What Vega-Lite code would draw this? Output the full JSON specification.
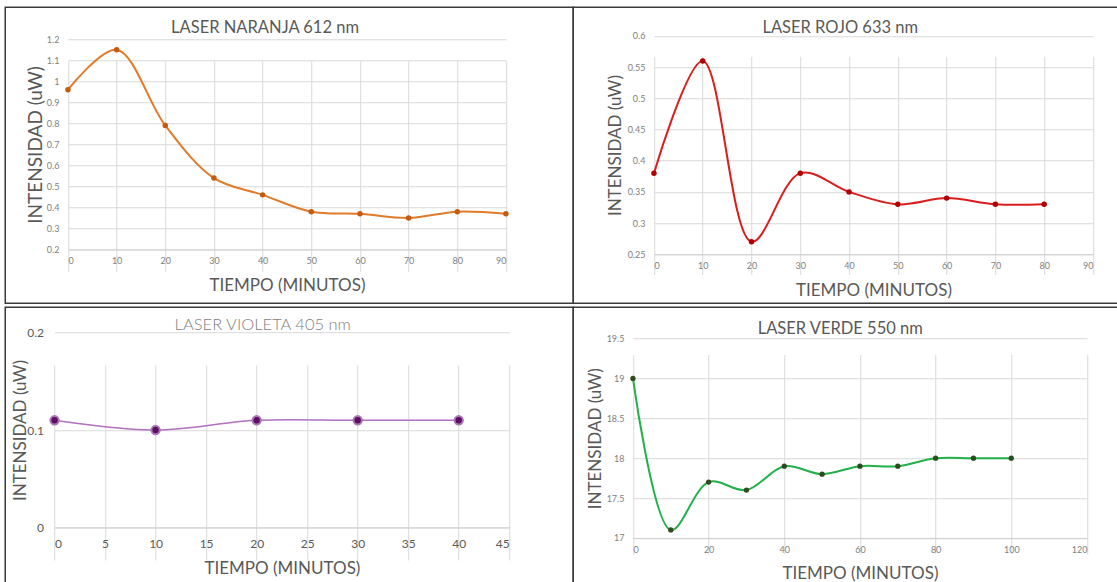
{
  "$schema": "https://vega.github.io/schema/vega-lite/v6.json",
  "background": "white",
  "padding": {"left": 4.25, "top": 6.25, "right": 0, "bottom": 0},
  "autosize": {"type": "pad"},
  "datasets": {
    "naranja": [
      {"tiempo": 0, "intensidad": 0.96}, {"tiempo": 10, "intensidad": 1.15}, {"tiempo": 20, "intensidad": 0.79},
      {"tiempo": 30, "intensidad": 0.54}, {"tiempo": 40, "intensidad": 0.46}, {"tiempo": 50, "intensidad": 0.38},
      {"tiempo": 60, "intensidad": 0.37}, {"tiempo": 70, "intensidad": 0.35}, {"tiempo": 80, "intensidad": 0.38},
      {"tiempo": 90, "intensidad": 0.37}
    ],
    "rojo": [
      {"tiempo": 0, "intensidad": 0.38}, {"tiempo": 10, "intensidad": 0.56}, {"tiempo": 20, "intensidad": 0.27},
      {"tiempo": 30, "intensidad": 0.38}, {"tiempo": 40, "intensidad": 0.35}, {"tiempo": 50, "intensidad": 0.33},
      {"tiempo": 60, "intensidad": 0.34}, {"tiempo": 70, "intensidad": 0.33}, {"tiempo": 80, "intensidad": 0.33}
    ],
    "violeta": [
      {"tiempo": 0, "intensidad": 0.11}, {"tiempo": 10, "intensidad": 0.10}, {"tiempo": 20, "intensidad": 0.11},
      {"tiempo": 30, "intensidad": 0.11}, {"tiempo": 40, "intensidad": 0.11}
    ],
    "verde": [
      {"tiempo": 0, "intensidad": 19.0}, {"tiempo": 10, "intensidad": 17.1}, {"tiempo": 20, "intensidad": 17.7},
      {"tiempo": 30, "intensidad": 17.6}, {"tiempo": 40, "intensidad": 17.9}, {"tiempo": 50, "intensidad": 17.8},
      {"tiempo": 60, "intensidad": 17.9}, {"tiempo": 70, "intensidad": 17.9}, {"tiempo": 80, "intensidad": 18.0},
      {"tiempo": 90, "intensidad": 18.0}, {"tiempo": 100, "intensidad": 18.0}
    ]
  },
  "columns": 2,
  "spacing": {"row": 4, "column": 0},
  "bounds": "flush",
  "align": "all",
  "concat": [
    {
      "width": 568, "height": 296,
      "title": {"text": "LASER NARANJA 612 nm", "anchor": "middle", "frame": "group", "dx": -24.2, "offset": -42.6, "baseline": "alphabetic", "fontSize": 16.5},
      "data": {"name": "naranja"},
      "encoding": {
        "x": {"field": "tiempo", "type": "quantitative",
          "scale": {"domain": [0, 90], "range": [62.7, 500.7], "nice": false, "zero": false},
          "axis": {"values": [0, 10, 20, 30, 40, 50, 60, 70, 80, 90], "offset": -53.7, "title": "TIEMPO (MINUTOS)", "titleFontSize": 17, "titleY": 40.7, "titleBaseline": "alphabetic", "labelFontSize": 9, "labelPadding": 7}},
        "y": {"field": "intensidad", "type": "quantitative",
          "scale": {"domain": [0.2, 1.2], "range": [242.3, 32], "nice": false, "zero": false},
          "axis": {"values": [0.2, 0.3, 0.4, 0.5, 0.6, 0.7, 0.8, 0.9, 1, 1.1, 1.2], "format": "~g", "offset": -62.7, "title": "INTENSIDAD (uW)", "titleFontSize": 19, "titleX": -26.2, "titleBaseline": "alphabetic", "labelFontSize": 9, "labelPadding": 9}}
      },
      "layer": [
        {"mark": {"type": "line", "interpolate": "catmull-rom", "color": "#E07B2A", "strokeWidth": 2}},
        {"mark": {"type": "point", "filled": true, "size": 30, "color": "#C55A11", "opacity": 1}}
      ]
    },
    {
      "width": 546, "height": 296,
      "title": {"text": "LASER ROJO 633 nm", "anchor": "middle", "frame": "group", "dx": -6, "offset": -42.6, "baseline": "alphabetic", "fontSize": 16.5},
      "data": {"name": "rojo"},
      "encoding": {
        "x": {"field": "tiempo", "type": "quantitative",
          "scale": {"domain": [0, 90], "range": [80.7, 519.7], "nice": false, "zero": false},
          "axis": {"values": [0, 10, 20, 30, 40, 50, 60, 70, 80, 90], "offset": -49, "title": "TIEMPO (MINUTOS)", "titleFontSize": 17, "titleY": 41, "titleBaseline": "alphabetic", "labelFontSize": 9, "labelPadding": 7}},
        "y": {"field": "intensidad", "type": "quantitative",
          "scale": {"domain": [0.25, 0.6], "range": [247, 28.7], "nice": false, "zero": false},
          "axis": {"values": [0.25, 0.3, 0.35, 0.4, 0.45, 0.5, 0.55, 0.6], "format": "~g", "offset": -80.7, "title": "INTENSIDAD (uW)", "titleFontSize": 17, "titleX": -33.7, "titleBaseline": "alphabetic", "labelFontSize": 9, "labelPadding": 9}}
      },
      "layer": [
        {"mark": {"type": "line", "interpolate": "catmull-rom", "color": "#D91E1E", "strokeWidth": 2}},
        {"mark": {"type": "point", "filled": true, "size": 30, "color": "#B00000", "opacity": 1}}
      ]
    },
    {
      "width": 568, "height": 278,
      "title": {"text": "LASER VIOLETA  405 nm", "anchor": "middle", "frame": "group", "dx": -26.5, "offset": -39.3, "baseline": "alphabetic", "fontSize": 16.5, "color": "#7f7f7f", "fontWeight": 300},
      "data": {"name": "violeta"},
      "encoding": {
        "x": {"field": "tiempo", "type": "quantitative",
          "scale": {"domain": [0, 45], "range": [49.3, 504], "nice": false, "zero": false},
          "axis": {"values": [0, 5, 10, 15, 20, 25, 30, 35, 40, 45], "offset": -57.7, "title": "TIEMPO (MINUTOS)", "titleFontSize": 17, "titleY": 46, "titleBaseline": "alphabetic", "labelFontSize": 12, "labelColor": "#595959", "labelPadding": 11}},
        "y": {"field": "intensidad", "type": "quantitative",
          "scale": {"domain": [0, 0.2], "range": [220.3, 25.3], "nice": false, "zero": false},
          "axis": {"values": [0, 0.1, 0.2], "format": "~g", "offset": -49.3, "title": "INTENSIDAD (uW)", "titleFontSize": 17, "titleX": -29.3, "titleBaseline": "alphabetic", "labelFontSize": 12, "labelColor": "#595959", "labelPadding": 11}}
      },
      "layer": [
        {"mark": {"type": "line", "interpolate": "catmull-rom", "color": "#B070BE", "strokeWidth": 1.5}},
        {"mark": {"type": "point", "filled": true, "size": 70, "color": "#5E0E62", "stroke": "#A878B4", "strokeWidth": 2, "opacity": 1}}
      ]
    },
    {
      "width": 546, "height": 278,
      "title": {"text": "LASER VERDE  550 nm", "anchor": "middle", "frame": "group", "dx": -6, "offset": -43.6, "baseline": "alphabetic", "fontSize": 16.5},
      "data": {"name": "verde"},
      "encoding": {
        "x": {"field": "tiempo", "type": "quantitative",
          "scale": {"domain": [0, 120], "range": [59.7, 513.7], "nice": false, "zero": false},
          "axis": {"values": [0, 20, 40, 60, 80, 100, 120], "offset": -47.3, "title": "TIEMPO (MINUTOS)", "titleFontSize": 17, "titleY": 40.6, "titleBaseline": "alphabetic", "labelFontSize": 9, "labelPadding": 8}},
        "y": {"field": "intensidad", "type": "quantitative",
          "scale": {"domain": [17, 19.5], "range": [230.7, 31.3], "nice": false, "zero": false},
          "axis": {"values": [17, 17.5, 18, 18.5, 19, 19.5], "format": "~g", "offset": -59.7, "title": "INTENSIDAD (uW)", "titleFontSize": 17, "titleX": -32.7, "titleBaseline": "alphabetic", "labelFontSize": 9, "labelPadding": 9}}
      },
      "layer": [
        {"mark": {"type": "line", "interpolate": "catmull-rom", "color": "#22B04B", "strokeWidth": 2}},
        {"mark": {"type": "point", "filled": true, "size": 28, "color": "#2E4A1E", "opacity": 1}}
      ]
    }
  ],
  "config": {
    "font": "Lato",
    "view": {"stroke": "#3a3a3a", "strokeWidth": 1.5},
    "title": {"font": "Lato", "fontWeight": "normal", "color": "#595959"},
    "axis": {
      "grid": true, "gridColor": "#d9d9d9", "gridWidth": 1,
      "domain": true, "domainColor": "#d0d0d0",
      "ticks": false,
      "labelFont": "Lato", "labelColor": "#808080",
      "titleFont": "Lato", "titleFontWeight": "normal", "titleColor": "#595959"
    },
    "axisY": {"domain": false}
  }
}
